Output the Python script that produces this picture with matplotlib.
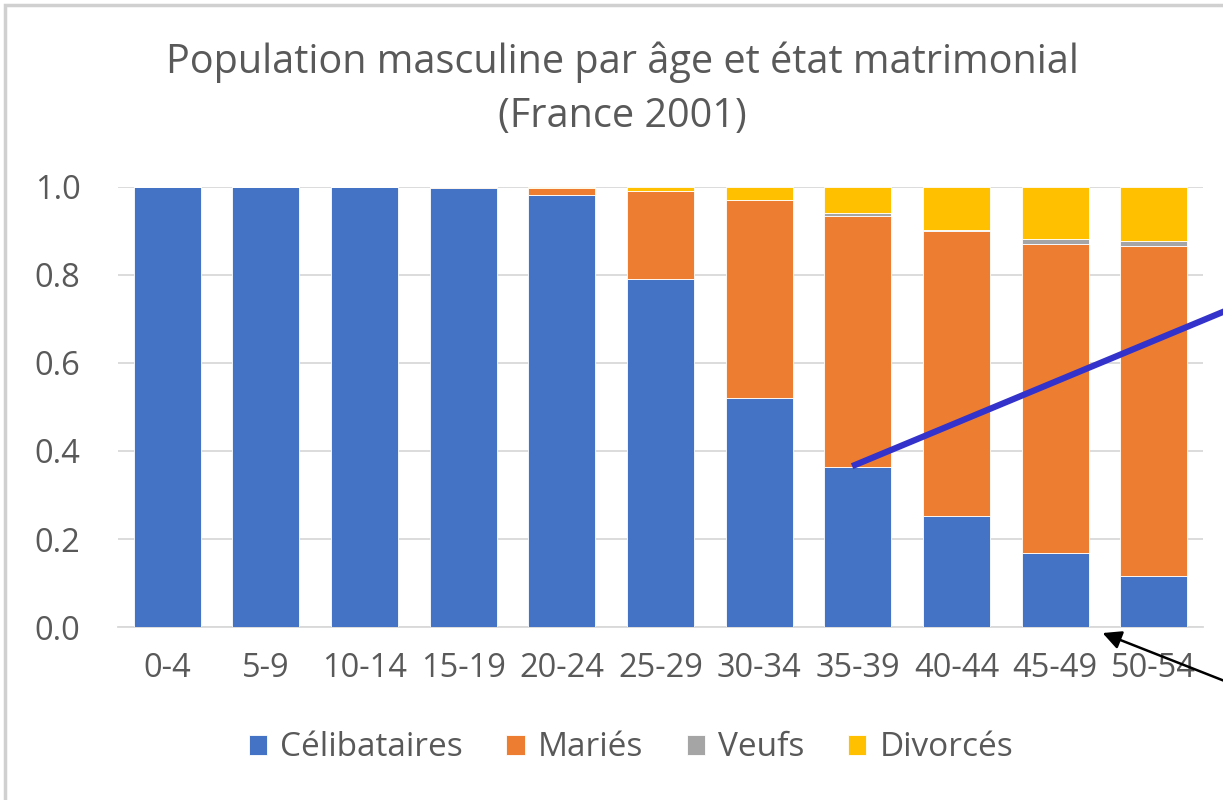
import matplotlib
matplotlib.use("Agg")
import matplotlib.pyplot as plt
from matplotlib.patches import Rectangle, FancyArrowPatch
from matplotlib.lines import Line2D
import numpy as np

plt.rcParams['font.family'] = ['Open Sans', 'DejaVu Sans']

categories = ["0-4", "5-9", "10-14", "15-19", "20-24", "25-29", "30-34",
              "35-39", "40-44", "45-49", "50-54"]
celibataires = [1.0, 1.0, 1.0, 0.997, 0.982, 0.791, 0.520, 0.364, 0.252, 0.168, 0.116]
maries = [0.0, 0.0, 0.0, 0.002, 0.016, 0.201, 0.450, 0.571, 0.648, 0.702, 0.751]
veufs = [0.0, 0.0, 0.0, 0.0, 0.0, 0.0, 0.001, 0.005, 0.003, 0.011, 0.010]
divorces = [0.0, 0.0, 0.0, 0.001, 0.002, 0.008, 0.029, 0.060, 0.097, 0.119, 0.123]
series_names = ["Célibataires", "Mariés", "Veufs", "Divorcés"]
colors = ["#4472C4", "#ED7D31", "#A5A5A5", "#FFC000"]
yticks = [0.0, 0.2, 0.4, 0.6, 0.8, 1.0]

W, H = 1223, 800
fig = plt.figure(figsize=(W / 100, H / 100), dpi=100)
ax = fig.add_axes([118 / W, 1 - 627 / H, 1085 / W, 440 / H])

x = np.arange(len(categories))
bottom = np.zeros(len(categories))
handles = []
for name, vals, c in zip(series_names, [celibataires, maries, veufs, divorces], colors):
    vals = np.array(vals)
    b = ax.bar(x, vals, 0.68, bottom=bottom, color=c, label=name, zorder=3,
               edgecolor="white", linewidth=0.6)
    bottom += vals
    handles.append(b)

ax.set_xlim(-0.5, len(categories) - 0.5)
ax.set_ylim(0, 1.0)
ax.set_yticks(yticks)
ax.set_yticklabels([f"{t:.1f}" for t in yticks])
ax.set_xticks(x)
ax.set_xticklabels(categories)
ax.yaxis.grid(True, color="#D9D9D9", linewidth=1.3, zorder=0)
ax.set_axisbelow(True)
for s in ["top", "right", "left"]:
    ax.spines[s].set_visible(False)
ax.spines["bottom"].set_color("#D9D9D9")
ax.spines["bottom"].set_linewidth(1.3)
ax.tick_params(axis="both", length=0, labelsize=23.5, colors="#595959")
ax.tick_params(axis="x", pad=18)
ax.tick_params(axis="y", pad=27)

fig.text(622 / W, 1 - 62 / H, "Population masculine par âge et état matrimonial",
         ha="center", va="center", fontsize=28.5, color="#595959")
fig.text(622 / W, 1 - 117 / H, "(France 2001)",
         ha="center", va="center", fontsize=28.5, color="#595959")

leg = fig.legend(handles=handles, labels=series_names, loc="center",
                 bbox_to_anchor=(631 / W, 1 - 748 / H), ncol=4, frameon=False,
                 fontsize=24, handlelength=0.55, handleheight=0.55,
                 handletextpad=0.4, columnspacing=1.3)
for t in leg.get_texts():
    t.set_color("#595959")

# figure frame
fig.patches.append(Rectangle((5 / W, -0.1), 1.2, 1 - 5 / H + 0.1,
                             transform=fig.transFigure, fill=False,
                             edgecolor="#D0D0D0", linewidth=2.5))

# annotation lines
fig.lines.append(Line2D([855 / W, 1.05], [1 - 465 / H, 1 - (465 - 0.416 * (1.05 * W - 855)) / H],
                        transform=fig.transFigure, color="#3333CC", linewidth=4.5))
fig.patches.append(FancyArrowPatch((1.02, 1 - 690 / H), (1100 / W, 1 - 632 / H),
                                   transform=fig.transFigure, arrowstyle="-|>",
                                   mutation_scale=28, color="black", linewidth=1.8))

fig.savefig("out.png", dpi=100)
